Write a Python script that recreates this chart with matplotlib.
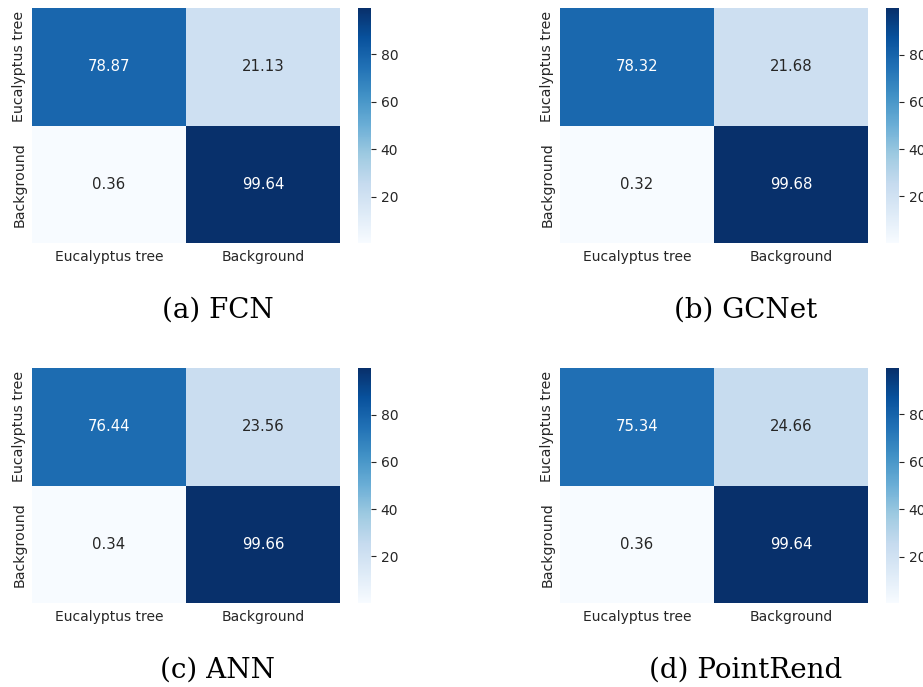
import numpy as np
import matplotlib
matplotlib.use("Agg")
import matplotlib.pyplot as plt
import seaborn as sns

labels = ["Eucalyptus tree", "Background"]
fcn = [[78.87, 21.13], [0.36, 99.64]]
gcnet = [[78.32, 21.68], [0.32, 99.68]]
ann = [[76.44, 23.56], [0.34, 99.66]]
pointrend = [[75.34, 24.66], [0.36, 99.64]]
captions = ["(a) FCN", "(b) GCNet", "(c) ANN", "(d) PointRend"]
matrices = [fcn, gcnet, ann, pointrend]

W, H = 923, 687
fig = plt.figure(figsize=(W / 100, H / 100), dpi=100)
txt = "#262626"

def ax_px(l, t, w, h):
    return fig.add_axes([l / W, 1 - (t + h) / H, w / W, h / H])

cols = [(32, 358), (560, 886)]
rows = [8, 368]
i = 0
for r in rows:
    for (hx, cx) in cols:
        m = np.array(matrices[i])
        ax = ax_px(hx, r, 308, 235)
        cax = ax_px(cx, r, 13, 235)
        sns.heatmap(m, ax=ax, cbar_ax=cax, cmap="Blues", annot=True, fmt=".2f",
                    annot_kws={"size": 10.7}, xticklabels=labels, yticklabels=labels)
        ax.tick_params(axis="x", length=0, labelsize=10, colors=txt, pad=5)
        ax.tick_params(axis="y", length=0, labelsize=10.2, colors=txt, pad=4)
        cax.tick_params(labelsize=10, colors=txt, length=3.5, width=0.8)
        cax.set_yticks([20, 40, 60, 80])
        for s in cax.spines.values():
            s.set_visible(False)
        fig.text((hx + 186) / W, 1 - (r + 302) / H, captions[i], ha="center", va="center",
                 fontsize=20, family="DejaVu Serif", color="black")
        i += 1

fig.savefig("out.png", dpi=100)
